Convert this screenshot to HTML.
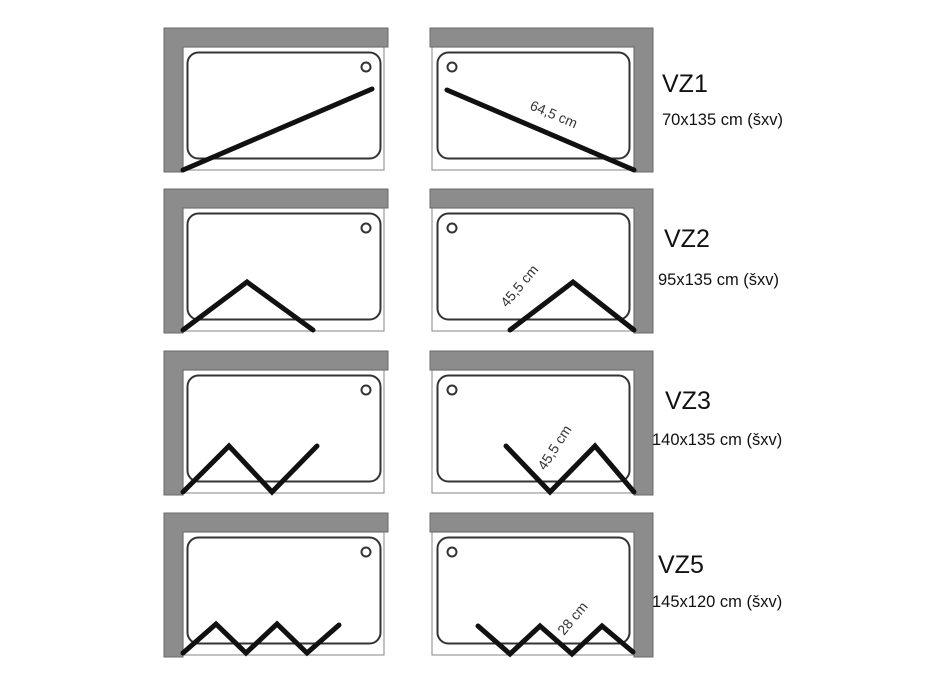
<!DOCTYPE html>
<html><head><meta charset="utf-8"><style>
html,body{margin:0;padding:0;background:#fff;}
svg{display:block;}
text{font-family:"Liberation Sans",sans-serif;fill:#111;}
</style></head><body>
<svg width="928" height="686" viewBox="0 0 928 686" xmlns="http://www.w3.org/2000/svg">
<defs>
<g id="L">
  <rect x="183" y="47" width="201" height="123" fill="#fff" stroke="#999" stroke-width="1.2"/>
  <rect x="187.5" y="52.5" width="193" height="106" rx="11" fill="none" stroke="#333" stroke-width="2"/>
  <circle cx="366" cy="67" r="4.5" fill="none" stroke="#333" stroke-width="2"/>
  <path d="M164,28 H388 V47 H183 V172 H164 Z" fill="#8c8c8c" stroke="#6a6a6a" stroke-width="1"/>
</g>
<g id="R">
  <rect x="432" y="47" width="202" height="123" fill="#fff" stroke="#999" stroke-width="1.2"/>
  <rect x="437.5" y="52.5" width="192" height="106" rx="11" fill="none" stroke="#333" stroke-width="2"/>
  <circle cx="452" cy="67" r="4.5" fill="none" stroke="#333" stroke-width="2"/>
  <path d="M430,28 H653 V172 H634 V47 H430 Z" fill="#8c8c8c" stroke="#6a6a6a" stroke-width="1"/>
</g>
</defs>
<use href="#L"/><use href="#R"/>
<use href="#L" transform="translate(0,161)"/><use href="#R" transform="translate(0,161)"/>
<use href="#L" transform="translate(0,323)"/><use href="#R" transform="translate(0,323)"/>
<use href="#L" transform="translate(0,485)"/><use href="#R" transform="translate(0,485)"/>

<g fill="none" stroke="#111" stroke-width="5" stroke-linecap="round" stroke-linejoin="miter">
  <polyline points="183,170 372,89"/>
  <polyline points="447,90 634,170"/>
  <polyline points="183,330 247,282 313,330"/>
  <polyline points="510,330 573,282 634,330"/>
  <polyline points="183,492 229,446 272,492 317,446"/>
  <polyline points="506,446 550,492 595,446 634,492"/>
  <polyline points="183,653 216,624 246,653 277,624 307,653 339,625"/>
  <polyline points="478,626 510,654 540,626 572,654 602,626 633,652"/>
</g>

<g font-size="14">
  <text transform="translate(529,109) rotate(23)" style="fill:#333">64,5 cm</text>
  <text transform="translate(507,308) rotate(-50)" style="fill:#333">45,5 cm</text>
  <text transform="translate(545,471) rotate(-57)" style="fill:#333">45,5 cm</text>
  <text transform="translate(564,636) rotate(-50)" style="fill:#333">28 cm</text>
</g>

<text x="662" y="92" font-size="25">VZ1</text>
<text x="662" y="125" font-size="16.5">70x135 cm (šxv)</text>
<text x="664" y="247" font-size="25">VZ2</text>
<text x="658" y="285" font-size="16.5">95x135 cm (šxv)</text>
<text x="665" y="409" font-size="25">VZ3</text>
<text x="652" y="445" font-size="16.5">140x135 cm (šxv)</text>
<text x="658" y="573" font-size="25">VZ5</text>
<text x="652" y="607" font-size="16.5">145x120 cm (šxv)</text>
</svg>
</body></html>
